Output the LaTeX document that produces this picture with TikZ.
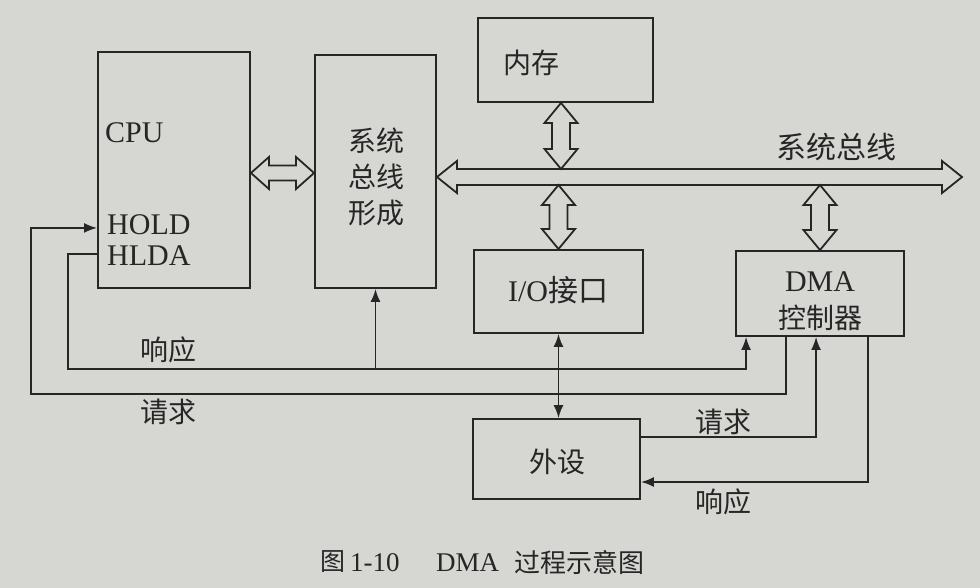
\documentclass[tikz,border=0pt]{standalone}
\usepackage{fontspec}
\setmainfont{Liberation Serif}
\newfontfamily\cjk{Noto Sans CJK SC}
\usetikzlibrary{arrows.meta,calc}
\definecolor{paper}{RGB}{214,214,210}
\definecolor{ink}{RGB}{38,38,38}
% hollow double arrows: #1 start, #2 end, #3 shaft half width, #4 head half width, #5 head length
\newcommand\hollowH[5]{%
  \draw[hollow] let \p1=(#1), \p2=(#2) in
    (\x1,\y1) -- (\x1+#5pt,\y1+#4pt) -- (\x1+#5pt,\y1+#3pt) -- (\x2-#5pt,\y1+#3pt)
    -- (\x2-#5pt,\y1+#4pt) -- (\x2,\y1) -- (\x2-#5pt,\y1-#4pt) -- (\x2-#5pt,\y1-#3pt)
    -- (\x1+#5pt,\y1-#3pt) -- (\x1+#5pt,\y1-#4pt) -- cycle;}
\newcommand\hollowV[5]{%
  \draw[hollow] let \p1=(#1), \p2=(#2) in
    (\x1,\y1) -- (\x1+#4pt,\y1-#5pt) -- (\x1+#3pt,\y1-#5pt) -- (\x1+#3pt,\y2+#5pt)
    -- (\x1+#4pt,\y2+#5pt) -- (\x1,\y2) -- (\x1-#4pt,\y2+#5pt) -- (\x1-#3pt,\y2+#5pt)
    -- (\x1-#3pt,\y1-#5pt) -- (\x1-#4pt,\y1-#5pt) -- cycle;}
\begin{document}
\begin{tikzpicture}[x=1pt,y=-1pt,
  box/.style={draw=ink,line width=1.9pt,rectangle,inner sep=0pt},
  sig/.style={draw=ink,line width=1.7pt,-{Latex[length=13pt,width=10pt]}},
  sigboth/.style={draw=ink,line width=1.7pt,{Latex[length=13pt,width=10pt]}-{Latex[length=13pt,width=10pt]}},
  hollow/.style={draw=ink,line width=1.8pt,fill=paper,line join=miter},
  lbl/.style={text=ink,inner sep=0pt},
  cn/.style={lbl,font=\cjk\fontsize{28}{36}\selectfont,align=center},
  ln/.style={lbl,font=\fontsize{30}{32}\selectfont,align=center}]
\fill[paper] (0,0) rectangle (980,588);
\useasboundingbox (0,0) rectangle (980,588);

% boxes
\node[box,minimum width=152pt,minimum height=236pt] (cpu) at (174,170) {};
\node[box,minimum width=121pt,minimum height=233pt] (bsf) at (375.5,171.5) {};
\node[box,minimum width=175pt,minimum height=84pt] (mem) at (565.5,60) {};
\node[box,minimum width=169pt,minimum height=83pt] (io) at (558.5,291.5) {};
\node[box,minimum width=168pt,minimum height=85pt] (dma) at (820,293.5) {};
\node[box,minimum width=167pt,minimum height=80pt] (per) at (556.5,459) {};

% box texts
\node[ln,anchor=west] (tcpu) at (105,133) {CPU};
\node[ln,anchor=west] (thold) at (107,225) {HOLD};
\node[ln,anchor=west] (thlda) at (107,256) {HLDA};
\node[cn] (tbsf) at (376,177) {系统\\总线\\形成};
\node[cn] (tmem) at (531,63) {内存};
\node[ln] (tio) at (558,290) {I/O{\cjk 接口}};
\node[ln] (tdma) at (820,282) {DMA};
\node[cn] (tdmac) at (820,318) {控制器};
\node[cn] (tper) at (557,462) {外设};
\node[cn,font=\cjk\fontsize{30}{36}\selectfont] (tbus) at (836,147) {系统总线};
\node[cn] (tresp1) at (168,350) {响应};
\node[cn] (treq1) at (168,412) {请求};
\node[cn] (treq2) at (723,422) {请求};
\node[cn] (tresp2) at (723,502) {响应};

% caption
\node[lbl,font=\cjk\fontsize{25}{28}\selectfont,anchor=west] (cap1) at (320,562) {图};
\node[lbl,font=\fontsize{27}{28}\selectfont,anchor=west] (cap2) at (350,563) {1-10};
\node[lbl,font=\fontsize{27}{28}\selectfont,anchor=west] (cap3) at (436,563) {DMA};
\node[lbl,font=\cjk\fontsize{26}{28}\selectfont,anchor=west] (cap4) at (514,562) {过程示意图};

% bus and hollow arrows
\coordinate (busN) at (0,169);
\coordinate (busS) at (0,185);
\coordinate (busR) at (962,177);
\coordinate (busL) at (bsf.east |- busR);
\hollowH{busL}{busR}{8}{16}{20}
\coordinate (cb1) at ($(cpu.east)+(0,3)$);
\coordinate (cb2) at (bsf.west |- cb1);
\hollowH{cb1}{cb2}{7.5}{16}{18}
\coordinate (m1) at ($(mem.south)+(-4.5,0)$);
\coordinate (m2) at (m1 |- busN);
\hollowV{m1}{m2}{9}{16.5}{20}
\coordinate (i1) at (io.north |- busS);
\hollowV{i1}{io.north}{9}{16.5}{20}
\coordinate (d1) at (dma.north |- busS);
\hollowV{d1}{dma.north}{9}{16.5}{20}

% signal lines
\coordinate (respL) at (68,369);
\coordinate (reqL) at (31,394);
\coordinate (prq) at (0,437);
\coordinate (prs) at (0,482);
\draw[sig] ([yshift=35pt]cpu.south west) -| (respL) -| ([xshift=11pt]dma.south west);
\draw[sig] (bsf.south |- respL) -- (bsf.south);
\draw[sig] ([xshift=51pt]dma.south west) |- (reqL) |- ([yshift=61pt]cpu.south west);
\draw[sig] (per.east |- prq) -| ([xshift=81pt]dma.south west);
\draw[sig] ([xshift=133pt]dma.south west) |- (per.east |- prs);
\draw[sigboth] (io.south) -- (io.south |- per.north);
\end{tikzpicture}
\end{document}
